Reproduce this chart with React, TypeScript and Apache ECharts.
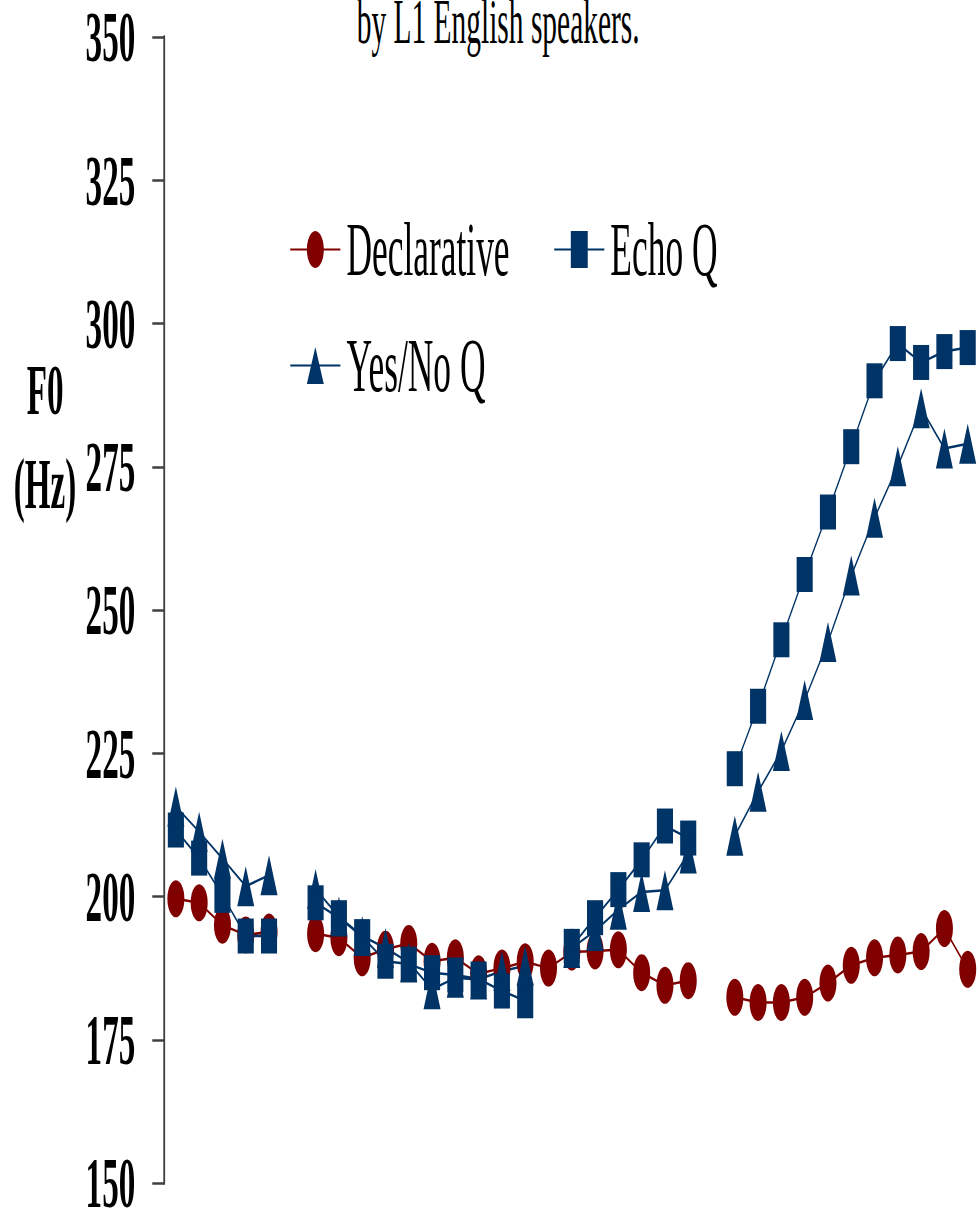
import React, { useEffect, useRef } from "react";
import * as echarts from "echarts";

// Horizontal squeeze of the whole picture (the reference is stretched vertically)
const SX = 0.46;

const categories = [
  "1", "2", "3", "4", "5", "6", "7", "8", "9", "10",
  "11", "12", "13", "14", "15", "16", "17", "18", "19", "20",
  "21", "22", "23", "24", "25", "26", "27", "28", "29", "30",
  "31", "32", "33", "34", "35",
];

const declarative = [
  199.6, 198.9, 195.0, 193.3, 193.8, null, 193.5, 192.8, 189.3, 190.8,
  191.8, 188.7, 189.3, 186.5, 187.5, 188.6, 187.5, 190.3, 190.5, 190.7,
  186.7, 184.5, 185.3, null, 182.4, 181.5, 181.5, 182.4, 184.9, 188.0,
  189.3, 189.8, 190.4, 194.4, 187.3,
];

const echoQ = [
  211.6, 206.7, 200.2, 193.1, 193.1, null, 198.9, 196.3, 193.0, 188.7,
  188.2, 186.7, 186.3, 185.6, 183.5, 181.8, null, 191.3, 196.3, 201.2,
  206.4, 212.3, 210.2, null, 222.3, 233.2, 244.8, 256.2, 267.1, 278.5,
  290.0, 296.5, 293.2, 295.1, 295.8,
];

const yesNoQ = [
  215.7, 211.3, 206.6, 201.8, 203.7, null, 201.3, 196.5, 193.1, 191.0,
  188.5, 183.8, 185.8, 185.5, 187.0, 187.9, null, 191.0, 194.0, 197.7,
  200.8, 201.1, 207.5, null, 210.6, 218.3, 225.4, 234.3, 244.4, 256.0,
  266.1, 275.1, 285.2, 278.2, 279.0,
];

const yTicks = { min: 150, max: 350, interval: 25 };

const RED = "#800000";
const BLUE = "#003366";
const FONT = "'Liberation Serif', 'Times New Roman', serif";

export default function App() {
  const ref = useRef<HTMLDivElement>(null);

  useEffect(() => {
    if (!ref.current) return;
    const chart = echarts.init(ref.current, undefined, { renderer: "svg" });
    const legendCommon = {
      orient: "horizontal",
      itemWidth: 109,
      itemHeight: 46,
      itemGap: 96,
      selectedMode: false,
      textStyle: {
        fontFamily: FONT,
        fontSize: 77,
        color: "#000",
        padding: [0, 0, 0, 8],
      },
    };
    const seriesCommon = {
      type: "line",
      showSymbol: true,
      showAllSymbol: true,
      connectNulls: false,
      z: 2,
    };
    chart.setOption({
      animation: false,
      backgroundColor: "#ffffff",
      grid: { left: 357, top: 37, width: 1772, height: 1151 },
      legend: [
        { ...legendCommon, data: ["Declarative", "Echo Q"], left: 625, top: 206 },
        { ...legendCommon, data: ["Yes/No Q"], left: 625, top: 322 },
      ],
      xAxis: {
        type: "category",
        data: categories,
        boundaryGap: true,
        axisLine: { show: false },
        axisTick: { show: false },
        axisLabel: { show: false },
        splitLine: { show: false },
      },
      yAxis: {
        type: "value",
        min: yTicks.min,
        max: yTicks.max,
        interval: yTicks.interval,
        splitLine: { show: false },
        axisLine: { show: true, lineStyle: { color: "#404040", width: 4 } },
        axisTick: { show: true, length: 26, lineStyle: { color: "#404040", width: 2.5 } },
        axisLabel: {
          fontFamily: FONT,
          fontWeight: "bold",
          fontSize: 72,
          color: "#000",
          margin: 63,
        },
      },
      graphic: [
        {
          type: "text",
          x: 1083,
          y: -10,
          style: {
            text: "by L1 English speakers.",
            fontFamily: FONT,
            fontSize: 64,
            fill: "#000",
            align: "center",
            verticalAlign: "top",
          },
        },
        {
          type: "text",
          x: 98,
          y: 390,
          style: {
            text: "F0",
            fontFamily: FONT,
            fontSize: 72,
            fontWeight: "bold",
            fill: "#000",
            align: "center",
            verticalAlign: "middle",
          },
        },
        {
          type: "text",
          x: 98,
          y: 484,
          style: {
            text: "(Hz)",
            fontFamily: FONT,
            fontSize: 72,
            fontWeight: "bold",
            fill: "#000",
            align: "center",
            verticalAlign: "middle",
          },
        },
      ],
      series: [
        {
          ...seriesCommon,
          name: "Declarative",
          data: declarative,
          symbol: "circle",
          symbolSize: 37,
          lineStyle: { color: RED, width: 2.5 },
          itemStyle: { color: RED },
        },
        {
          ...seriesCommon,
          name: "Echo Q",
          data: echoQ,
          symbol: "rect",
          symbolSize: [35, 35],
          lineStyle: { color: BLUE, width: 2.5 },
          itemStyle: { color: BLUE },
        },
        {
          ...seriesCommon,
          name: "Yes/No Q",
          data: yesNoQ,
          symbol: "triangle",
          symbolSize: [37, 40],
          lineStyle: { color: BLUE, width: 2.5 },
          itemStyle: { color: BLUE },
        },
      ],
    });
    return () => chart.dispose();
  }, []);

  return (
    <div
      style={{
        position: "absolute",
        left: 0,
        top: 0,
        width: 979,
        height: 1219,
        overflow: "hidden",
        background: "#fff",
      }}
    >
      <div
        ref={ref}
        style={{
          width: Math.round(982 / SX),
          height: 1219,
          transform: `scaleX(${SX})`,
          transformOrigin: "0 0",
        }}
      />
    </div>
  );
}
